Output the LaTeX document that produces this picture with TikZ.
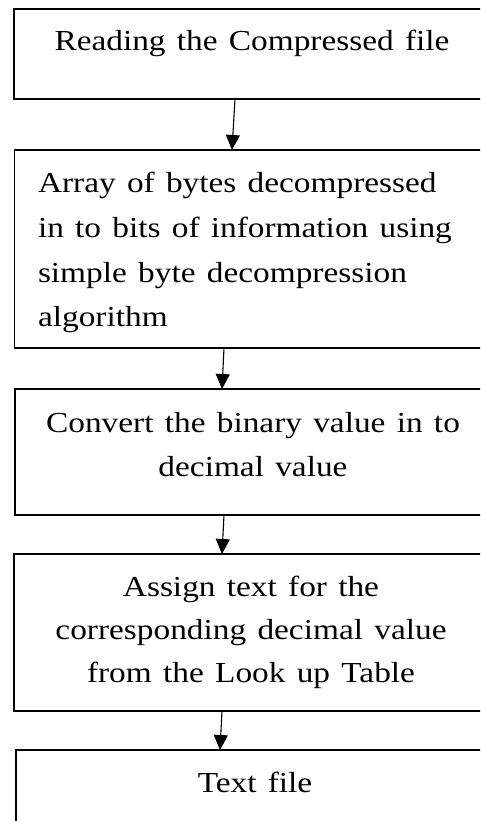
\documentclass[tikz,border=0pt]{standalone}
\usepackage{fontspec}
\usepackage{graphicx}
\setmainfont{Liberation Serif}[WordSpace=1.35]
\usetikzlibrary{arrows.meta}
\newcommand\boxfont{\fontsize{29}{44}\selectfont}
\newcommand\wide[1]{\scalebox{1.15}[1]{#1}}
\begin{document}
\begin{tikzpicture}[x=1pt,y=-1pt,
  box/.style={draw, line width=1.6pt, rectangle, inner sep=0pt, outer sep=0pt, anchor=north west},
  arr/.style={-{Triangle[length=15pt,width=14pt]}, line width=1.1pt},
  lbl/.style={inner sep=0pt, outer sep=0pt}]
\useasboundingbox (0,0) rectangle (480,821);
\clip (0,0) rectangle (480,821);
\node[box, minimum width=476pt, minimum height=90pt]  (b1) at (14,9) {};
\node[box, minimum width=476pt, minimum height=198pt] (b2) at (14.5,150) {};
\node[box, minimum width=476pt, minimum height=126pt] (b3) at (15,389) {};
\node[box, minimum width=476pt, minimum height=157pt] (b4) at (14,554) {};
\node[box, minimum width=476pt, minimum height=120pt] (b5) at (16,750) {};

\node[lbl, anchor=base] (t1) at (252,51) {\wide{\parbox[t]{400pt}{\centering\boxfont Reading the Compressed file}}};
\node[lbl, anchor=base west] (t2) at (38,193) {\wide{\parbox[t]{390pt}{\raggedright\fontsize{29}{44.6}\selectfont Array of bytes decompressed\\ in to bits of information using\\ simple byte decompression\\ algorithm}}};
\node[lbl, anchor=base] (t3) at (253,432) {\wide{\parbox[t]{400pt}{\centering\boxfont Convert the binary value in to\\ decimal value}}};
\node[lbl, anchor=base] (t4) at (251,596) {\wide{\parbox[t]{400pt}{\centering\fontsize{29}{43}\selectfont Assign text for the\\ corresponding decimal value\\ from the Look up Table}}};
\node[lbl, anchor=base] (t5) at (255,792) {\wide{\parbox[t]{400pt}{\centering\boxfont Text file}}};

\draw[arr] ([xshift=221pt]b1.south west) -- ([xshift=217.5pt]b2.north west);
\draw[arr] ([xshift=209.5pt]b2.south west) -- ([xshift=207pt]b3.north west);
\draw[arr] ([xshift=209pt]b3.south west) -- ([xshift=208pt]b4.north west);
\draw[arr] ([xshift=208pt]b4.south west) -- ([xshift=204pt]b5.north west);
\end{tikzpicture}
\end{document}
